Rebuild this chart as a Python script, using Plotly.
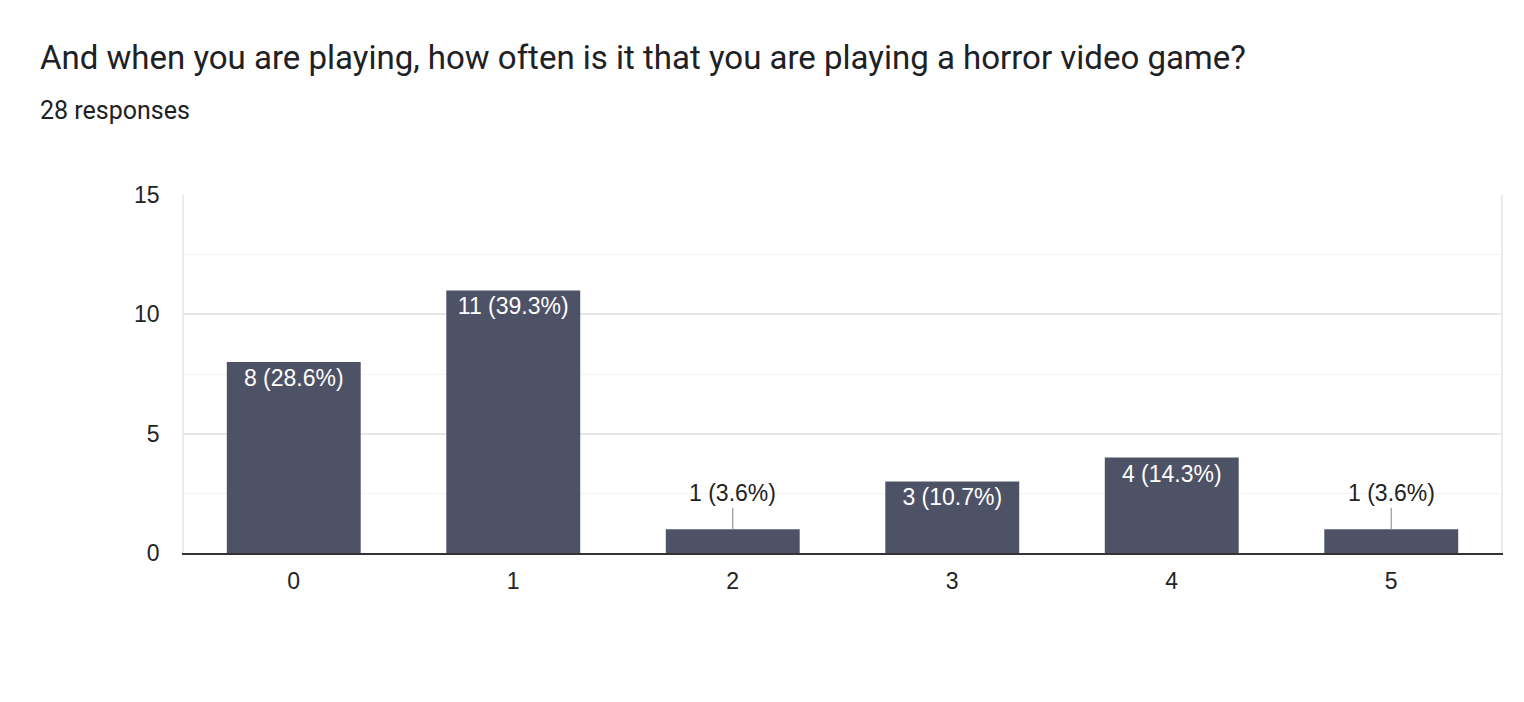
import plotly.graph_objects as go

categories = ["0", "1", "2", "3", "4", "5"]
counts = [8, 11, 1, 3, 4, 1]
y_ticks = [0, 5, 10, 15]
title_text = "And when you are playing, how often is it that you are playing a horror video game?"
subtitle_text = "28 responses"

total = sum(counts)
labels = [f"{v} ({v / total * 100:.1f}%)" for v in counts]
inside_text = [lab if v >= 2 else "" for lab, v in zip(labels, counts)]

# page body has an 8px margin, so figure coords = screen coords - 8
OFF = 8
W, H = 1524, 702
ML, MT = 184 - OFF, 195 - OFF
PW, PH = 1317, 358
MR, MB = W - ML - PW, H - MT - PH

BAR = "#4e5266"
TEXTFONT = "Liberation Sans, Arial, sans-serif"
TITLEFONT = "Roboto, Open Sans, sans-serif"

fig = go.Figure()
fig.add_trace(go.Bar(
    x=categories, y=counts,
    marker=dict(color=BAR, line=dict(width=0)),
    text=inside_text, textposition="inside", insidetextanchor="end",
    textfont=dict(family=TEXTFONT, size=23, color="white"),
    textangle=0, hoverinfo="skip", cliponaxis=False,
))

annotations = []
for cat, v, lab in zip(categories, counts, labels):
    if v < 2:
        annotations.append(dict(
            x=cat, y=v, xref="x", yref="y", text=lab,
            showarrow=True, arrowhead=0, arrowwidth=1.2, arrowcolor="#9a9a9a",
            ax=0, ay=-36, standoff=0,
            font=dict(family=TEXTFONT, size=23, color="#222222"),
        ))

title_x, title_y = 38 - OFF, 57 - OFF
sub_x, sub_y = 38 - OFF, 111 - OFF
annotations.append(dict(
    x=(title_x - ML) / PW, y=1 + (MT - title_y) / PH, xref="paper", yref="paper",
    xanchor="left", yanchor="middle", showarrow=False, text=title_text,
    font=dict(family=TITLEFONT, size=33, color="#202124"),
))
annotations.append(dict(
    x=(sub_x - ML) / PW, y=1 + (MT - sub_y) / PH, xref="paper", yref="paper",
    xanchor="left", yanchor="middle", showarrow=False, text=subtitle_text,
    font=dict(family=TITLEFONT, size=25, color="#202124"),
))

fig.update_layout(
    width=W, height=H,
    margin=dict(l=ML, r=MR, t=MT, b=MB, autoexpand=False),
    paper_bgcolor="white", plot_bgcolor="white",
    bargap=0.39, showlegend=False,
    annotations=annotations,
    font=dict(family=TEXTFONT, color="#222222"),
)
fig.update_xaxes(
    type="category", showgrid=False, showline=True, linecolor="#333333", linewidth=2,
    ticks="", tickfont=dict(family=TEXTFONT, size=23, color="#222222"),
    ticklabelstandoff=6, zeroline=False,
)
fig.update_yaxes(
    range=[0, 15], tickvals=y_ticks, showgrid=True, gridcolor="#e6e6e6", gridwidth=1.5,
    minor=dict(dtick=2.5, tick0=0, showgrid=True, gridcolor="#f3f3f3", gridwidth=1.2),
    showline=True, linecolor="#ebebeb", linewidth=1.5, mirror=True,
    zeroline=False, ticks="", ticklabelstandoff=18,
    tickfont=dict(family=TEXTFONT, size=23, color="#222222"),
)

fig.write_html("out.html")
